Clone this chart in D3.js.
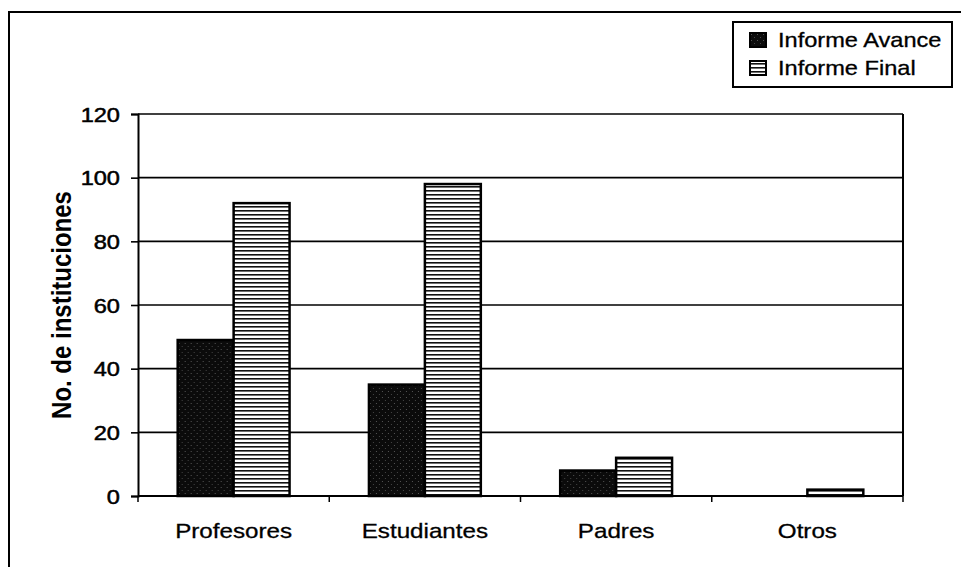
<!DOCTYPE html>
<html><head><meta charset="utf-8">
<script src="https://cdn.jsdelivr.net/npm/d3@7/dist/d3.min.js"></script>
<style>html,body{margin:0;padding:0;background:#fff;}svg{display:block;}</style>
</head><body>
<script>
const categories = ["Profesores", "Estudiantes", "Padres", "Otros"];
const seriesNames = ["Informe Avance", "Informe Final"];
const avance = [49, 35, 8, 0];
const final = [92, 98, 12, 2];
const yTicks = [0, 20, 40, 60, 80, 100, 120];

const W = 961, H = 567;
const SX = 1.18; // horizontal text stretch seen in the scan
const FONT = "'Liberation Sans', Arial, Helvetica, sans-serif";
const plot = {left: 138, right: 903, top: 114, bottom: 496};

const svg = d3.select("body").append("svg").attr("width", W).attr("height", H);
const defs = svg.append("defs");

// Patterns
const pA = defs.append("pattern").attr("id", "pAvance").attr("patternUnits", "userSpaceOnUse")
  .attr("width", 6).attr("height", 6);
pA.append("rect").attr("width", 6).attr("height", 6).attr("fill", "#0b0b0b");
pA.append("rect").attr("x", 1).attr("y", 1).attr("width", 1).attr("height", 1).attr("fill", "#555");
pA.append("rect").attr("x", 4).attr("y", 4).attr("width", 1).attr("height", 1).attr("fill", "#444");

const pF = defs.append("pattern").attr("id", "pFinal").attr("patternUnits", "userSpaceOnUse")
  .attr("width", 8).attr("height", 4);
pF.append("rect").attr("width", 8).attr("height", 4).attr("fill", "#fff");
pF.append("rect").attr("y", 2).attr("width", 8).attr("height", 1.6).attr("fill", "#111");

// Outer frame
svg.append("rect").attr("x", 9).attr("y", 12).attr("width", W + 20).attr("height", H + 20)
  .attr("fill", "none").attr("stroke", "#000").attr("stroke-width", 2);

// Scales
const x0 = d3.scaleBand().domain(categories).range([plot.left, plot.right])
  .paddingInner(0.415).paddingOuter(0.2075);
const x1 = d3.scaleBand().domain(seriesNames).range([0, x0.bandwidth()]).padding(0);
const y = d3.scaleLinear().domain([0, 120]).range([plot.bottom, plot.top]);

// Plot frame & gridlines
const g = svg.append("g");
g.selectAll("line.grid").data(yTicks.filter(d => d > 0)).join("line")
  .attr("class", "grid")
  .attr("x1", plot.left).attr("x2", plot.right)
  .attr("y1", d => y(d)).attr("y2", d => y(d))
  .attr("stroke", "#000").attr("stroke-width", 1.6);
g.append("line").attr("x1", plot.right).attr("x2", plot.right)
  .attr("y1", plot.top).attr("y2", plot.bottom).attr("stroke", "#000").attr("stroke-width", 2);

// Bars
const bars = categories.map((c, i) => ({c, vals: [avance[i], final[i]]}));
const grp = g.selectAll("g.cat").data(bars).join("g").attr("class", "cat")
  .attr("transform", d => `translate(${x0(d.c)},0)`);
grp.selectAll("rect").data(d => d.vals.map((v, j) => ({v, s: seriesNames[j]})).filter(e => e.v > 0))
  .join("rect")
  .attr("x", d => x1(d.s)).attr("width", x1.bandwidth())
  .attr("y", d => y(d.v)).attr("height", d => y(0) - y(d.v))
  .attr("fill", d => d.s === seriesNames[0] ? "url(#pAvance)" : "url(#pFinal)")
  .attr("stroke", "#000").attr("stroke-width", 2.5);

// Y axis
const yAxis = d3.axisLeft(y).tickValues(yTicks).tickSize(7).tickPadding(11);
const ya = svg.append("g").attr("transform", `translate(${plot.left},0)`).call(yAxis);
ya.select(".domain").attr("stroke", "#000").attr("stroke-width", 2);
ya.selectAll(".tick line").attr("stroke", "#000").attr("stroke-width", 1.6);
ya.selectAll(".tick text").each(function() {
  const t = d3.select(this);
  const xx = +t.attr("x");
  t.attr("x", 0).attr("transform", `translate(${xx},0) scale(${SX},1)`);
}).attr("font-family", FONT).attr("font-size", 20).attr("fill", "#000").attr("dy", "0.36em")
  .attr("stroke", "#000").attr("stroke-width", 0.5);

// X axis
const xa = svg.append("g").attr("transform", `translate(0,${plot.bottom})`);
xa.append("line").attr("x1", plot.left).attr("x2", plot.right).attr("y1", 0).attr("y2", 0)
  .attr("stroke", "#000").attr("stroke-width", 2);
const step = x0.step();
xa.selectAll("line.xt").data(d3.range(categories.length + 1)).join("line").attr("class", "xt")
  .attr("x1", i => plot.left + i * step).attr("x2", i => plot.left + i * step)
  .attr("y1", 0).attr("y2", 6).attr("stroke", "#000").attr("stroke-width", 1.5);
xa.selectAll("text").data(categories).join("text")
  .attr("transform", d => `translate(${x0(d) + x0.bandwidth() / 2},42) scale(${SX},1)`)
  .attr("text-anchor", "middle").attr("font-family", FONT).attr("font-size", 20.5).attr("fill", "#000")
  .attr("stroke", "#000").attr("stroke-width", 0.3)
  .text(d => d);

// Y title
svg.append("text")
  .attr("transform", `translate(71,305) scale(${SX},1) rotate(-90)`)
  .attr("text-anchor", "middle").attr("font-family", FONT).attr("font-weight", "bold")
  .attr("font-size", 24).attr("fill", "#000").text("No. de instituciones");

// Legend
const lg = svg.append("g");
lg.append("rect").attr("x", 733).attr("y", 22).attr("width", 219).attr("height", 65)
  .attr("fill", "#fff").attr("stroke", "#000").attr("stroke-width", 2);
const items = lg.selectAll("g.li").data(seriesNames).join("g").attr("class", "li")
  .attr("transform", (d, i) => `translate(750,${33 + i * 28})`);
items.append("rect").attr("width", 16).attr("height", 14)
  .attr("fill", (d, i) => i === 0 ? "url(#pAvance)" : "url(#pFinal)")
  .attr("stroke", "#000").attr("stroke-width", 2);
items.append("text").attr("transform", `translate(28,14) scale(${SX},1)`)
  .attr("font-family", FONT).attr("font-size", 20).attr("fill", "#000")
  .attr("stroke", "#000").attr("stroke-width", 0.3).text(d => d);
</script>
</body></html>
